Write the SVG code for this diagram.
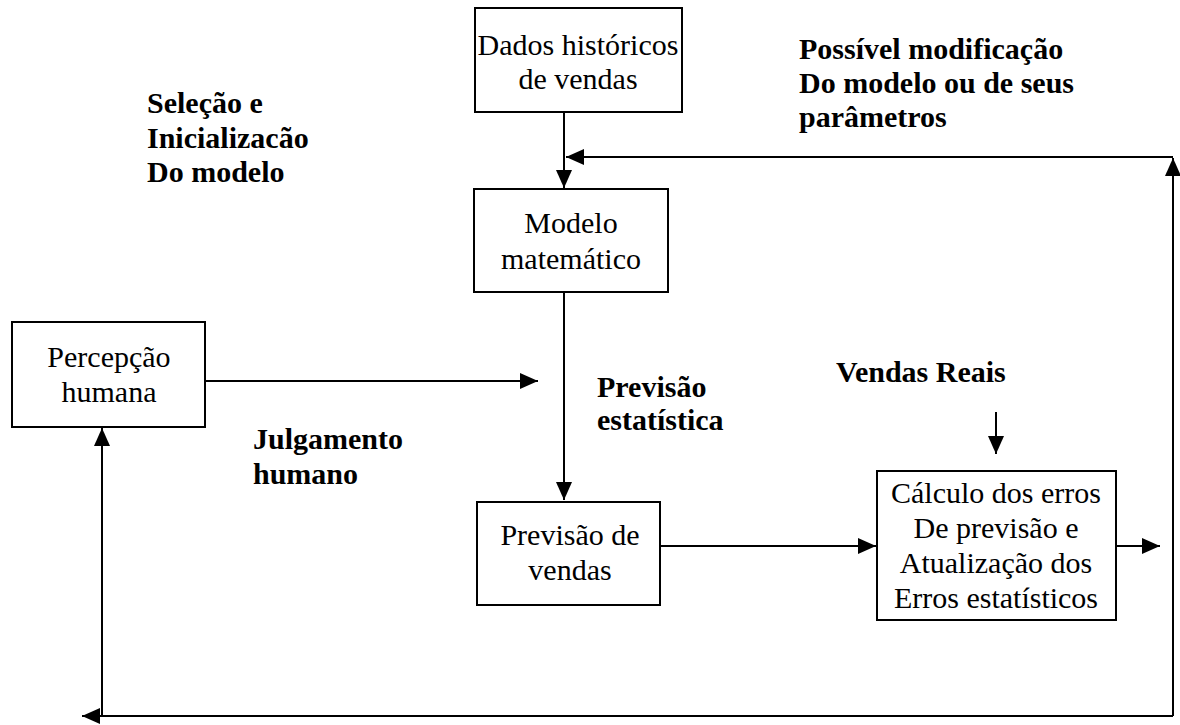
<svg xmlns="http://www.w3.org/2000/svg" width="1180" height="725" viewBox="0 0 1180 725">
<style>
  .box { fill: #ffffff; stroke: #000000; stroke-width: 2; }
  .t { font-family: "Liberation Serif", "Times New Roman", serif; font-size: 30px; fill: #000000; text-anchor: middle; }
  .b { font-family: "Liberation Serif", "Times New Roman", serif; font-size: 30px; font-weight: bold; fill: #000000; }
  .c { fill: none; stroke: #000000; stroke-width: 2; marker-end: url(#ah); }
  .p { fill: none; stroke: #000000; stroke-width: 2; }
</style>
<defs>
  <marker id="ah" markerUnits="userSpaceOnUse" markerWidth="20" markerHeight="18" refX="18" refY="8" orient="auto">
    <path d="M0,0 L18,8 L0,16 z" fill="#000000"/>
  </marker>
</defs>
<rect width="1180" height="725" fill="#ffffff"/>

<g id="connectors">
  <path class="c" d="M564,112 L564,188"/>
  <path class="c" d="M1173,157 L566,157"/>
  <path class="c" d="M1173,716 L1173,158"/>
  <path class="c" d="M564,292 L564,500"/>
  <path class="c" d="M205,381 L538,381"/>
  <path class="c" d="M660,546 L876,546"/>
  <path class="c" d="M1116,546 L1160,546"/>
  <path class="c" d="M996,412 L996,454"/>
  <path class="c" d="M1173,716 L82,716"/>
  <path class="c" d="M102,716 L102,428"/>
</g>

<g id="dados">
  <rect class="box" x="475" y="8" width="207" height="104"/>
  <text class="t" x="578" y="55">Dados históricos</text>
  <text class="t" x="578" y="89">de vendas</text>
</g>
<g id="modelo">
  <rect class="box" x="474" y="189" width="194" height="103"/>
  <text class="t" x="571" y="233">Modelo</text>
  <text class="t" x="571" y="269">matemático</text>
</g>
<g id="percepcao">
  <rect class="box" x="12" y="322" width="193" height="105"/>
  <text class="t" x="109" y="367">Percepção</text>
  <text class="t" x="109" y="402">humana</text>
</g>
<g id="previsao">
  <rect class="box" x="477" y="502" width="183" height="103"/>
  <text class="t" x="570" y="545">Previsão de</text>
  <text class="t" x="570" y="580">vendas</text>
</g>
<g id="calculo">
  <rect class="box" x="877" y="471" width="239" height="149"/>
  <text class="t" x="996" y="503">Cálculo dos erros</text>
  <text class="t" x="996" y="538">De previsão e</text>
  <text class="t" x="996" y="573">Atualização dos</text>
  <text class="t" x="996" y="608">Erros estatísticos</text>
</g>

<g id="labels">
  <text class="b" x="147" y="113">Seleção e</text>
  <text class="b" x="147" y="148">Inicializacão</text>
  <text class="b" x="147" y="182">Do modelo</text>
  <text class="b" x="799" y="59">Possível modificação</text>
  <text class="b" x="799" y="93">Do modelo ou de seus</text>
  <text class="b" x="799" y="127">parâmetros</text>
  <text class="b" x="597" y="397">Previsão</text>
  <text class="b" x="597" y="430">estatística</text>
  <text class="b" x="253" y="449">Julgamento</text>
  <text class="b" x="253" y="484">humano</text>
  <text class="b" x="836" y="382">Vendas Reais</text>
</g>
</svg>
